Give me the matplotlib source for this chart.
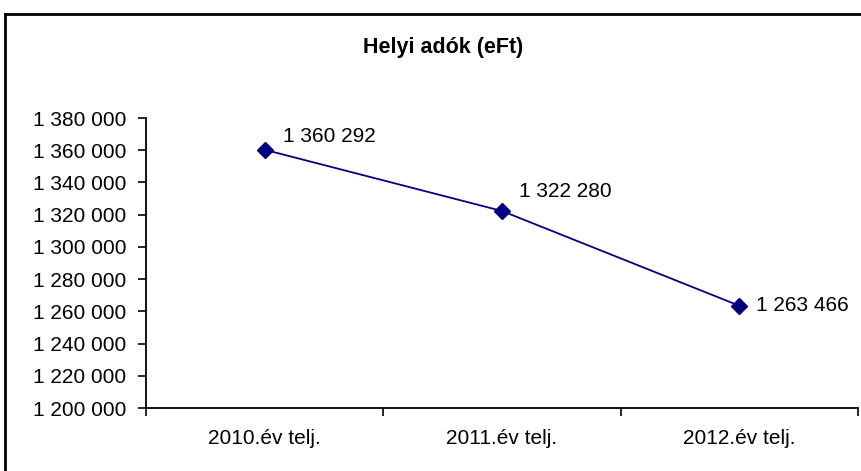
import matplotlib
matplotlib.use("Agg")
import matplotlib.pyplot as plt
from matplotlib.ticker import FuncFormatter, FixedLocator
from matplotlib.lines import Line2D

categories = ["2010.év telj.", "2011.év telj.", "2012.év telj."]
values = [1360292, 1322280, 1263466]
title = "Helyi adók (eFt)"

plt.rcParams['font.family'] = ['Liberation Sans', 'DejaVu Sans']

fig = plt.figure(figsize=(8.61, 4.71), dpi=100)
ax = fig.add_axes([146/861, 63/471, (858-146)/861, (408-118)/471])

x = list(range(len(categories)))
ax.plot(x, values, color="#000080", lw=1.3, marker="D", ms=8, mfc="#000080", mec="#000080")

def fmt(v):
    return f"{int(round(v)):,}".replace(",", " ")

offsets = [(13, 9.5), (12, 14), (12, 0)]
for xi, v, off in zip(x, values, offsets):
    ax.annotate(fmt(v), (xi, v), xytext=off, textcoords="offset points",
                ha="left", va="center", fontsize=15)

ax.set_xlim(-0.5, 2.5)
ax.set_ylim(1200000, 1380000)
ax.set_yticks(range(1200000, 1380001, 20000))
ax.yaxis.set_major_formatter(FuncFormatter(lambda v, p: fmt(v)))
ax.set_xticks(x)
ax.set_xticklabels(categories)
ax.xaxis.set_minor_locator(FixedLocator([-0.5, 0.5, 1.5, 2.5]))
ax.tick_params(axis="x", which="major", length=0, pad=15, labelsize=15)
ax.tick_params(axis="x", which="minor", length=6, width=1.2, direction="out")
ax.tick_params(axis="y", which="major", length=6, width=1.2, direction="out", pad=8, labelsize=15)

for s in ["top", "right"]:
    ax.spines[s].set_visible(False)
for s in ["left", "bottom"]:
    ax.spines[s].set_linewidth(1.3)
    ax.spines[s].set_color("black")

fig.text(443/861, 1 - 48/471, title, ha="center", va="center", fontsize=15.5, fontweight="bold")

# chart border (top and left visible)
fig.add_artist(Line2D([5/861, 1.0], [1 - 14/471, 1 - 14/471], color="black", lw=2, transform=fig.transFigure))
fig.add_artist(Line2D([5/861, 5/861], [0, 1 - 14/471], color="black", lw=2, transform=fig.transFigure))

fig.savefig("out.png", dpi=100)
